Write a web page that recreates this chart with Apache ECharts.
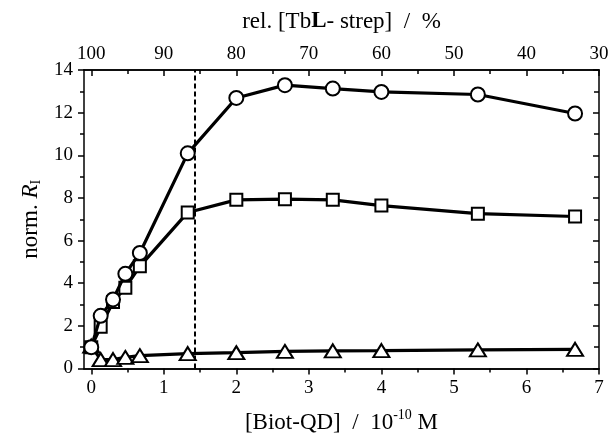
<!DOCTYPE html>
<html>
<head>
<meta charset="utf-8">
<script src="https://cdn.jsdelivr.net/npm/echarts@6/dist/echarts.min.js"></script>
<style>
  html, body { margin: 0; padding: 0; background: #fff; }
  #chart { width: 613px; height: 439px; }
</style>
</head>
<body>
<div id="chart"></div>
<script>
var myChart = echarts.init(document.getElementById('chart'));

// [Biot-QD] / 10^-10 M
var conc = [0, 0.13, 0.3, 0.47, 0.67, 1.33, 2, 2.67, 3.33, 4, 5.33, 6.67];
var circles = [1.0, 2.47, 3.24, 4.44, 5.42, 10.09, 12.69, 13.29, 13.13, 12.97, 12.85, 11.96];
var squares = [1.0, 1.96, 3.12, 3.79, 4.79, 7.32, 7.91, 7.94, 7.91, 7.64, 7.26, 7.13];
var triangles = [1.05, 0.42, 0.42, 0.52, 0.6, 0.7, 0.74, 0.8, 0.83, 0.84, 0.87, 0.9];
var dashX = 1.42;

var bottomTicks = [0, 1, 2, 3, 4, 5, 6, 7];
var bottomMinor = [0.5, 1.5, 2.5, 3.5, 4.5, 5.5, 6.5];
var topLabels = ['100', '90', '80', '70', '60', '50', '40', '30'];

var font = 'Liberation Serif';

function pairs(ys) {
    return conc.map(function (x, i) { return [x, ys[i]]; });
}

function xAxisBase(extra) {
    var a = {
        type: 'value',
        min: -0.1,
        max: 7,
        splitLine: { show: false },
        axisLine: { show: true, onZero: false, lineStyle: { color: '#000', width: 1.5 } }
    };
    for (var k in extra) a[k] = extra[k];
    return a;
}

function lineSeries(name, data, symbol, size, z) {
    return {
        name: name,
        type: 'line',
        data: pairs(data),
        symbol: symbol,
        symbolSize: size,
        z: z,
        lineStyle: { color: '#000', width: 3.2 },
        itemStyle: { color: '#fff', borderColor: '#000', borderWidth: 2 },
        emphasis: { disabled: true }
    };
}

var circleSeries = lineSeries('circle', circles, 'circle', 14, 4);
circleSeries.markLine = {
    symbol: 'none',
    silent: true,
    label: { show: false },
    lineStyle: { color: '#000', width: 2, type: [5, 3] },
    data: [[{ coord: [dashX, 0] }, { coord: [dashX, 14] }]]
};

var option = {
    animation: false,
    grid: { left: 84, right: 14, top: 70, bottom: 70 },
    xAxis: [
        xAxisBase({
            position: 'bottom',
            name: '{t|[Biot-QD]  /  10}{sup|-10}{t| M}',
            nameLocation: 'middle',
            nameGap: 40,
            nameTextStyle: {
                color: '#000',
                fontFamily: font,
                fontSize: 23,
                rich: {
                    t: { fontFamily: font, fontSize: 23, color: '#000' },
                    sup: { fontFamily: font, fontSize: 14, color: '#000', padding: [0, 0, 14, 0] }
                }
            },
            axisTick: { show: true, inside: false, length: 6, customValues: bottomTicks, lineStyle: { color: '#000', width: 1.5 } },
            axisLabel: {
                customValues: bottomTicks,
                margin: 10,
                color: '#000',
                fontFamily: font,
                fontSize: 19
            }
        }),
        xAxisBase({
            position: 'bottom',
            axisTick: { show: true, inside: false, length: 4, customValues: bottomMinor, lineStyle: { color: '#000', width: 1.5 } },
            axisLabel: { show: false }
        }),
        xAxisBase({
            position: 'top',
            name: '{t|rel. [Tb}{b|L}{t|- strep]  /  %}',
            nameLocation: 'middle',
            nameGap: 37,
            nameTextStyle: {
                color: '#000',
                fontFamily: font,
                fontSize: 23,
                rich: {
                    t: { fontFamily: font, fontSize: 23, color: '#000' },
                    b: { fontFamily: font, fontSize: 23, color: '#000', fontWeight: 'bold' }
                }
            },
            axisTick: { show: true, inside: true, length: 6, customValues: bottomTicks, lineStyle: { color: '#000', width: 1.5 } },
            axisLabel: {
                customValues: bottomTicks,
                margin: 6,
                color: '#000',
                fontFamily: font,
                fontSize: 19,
                formatter: function (v) { return topLabels[Math.round(v)]; }
            }
        }),
        xAxisBase({
            position: 'top',
            axisTick: { show: true, inside: true, length: 4, customValues: bottomMinor, lineStyle: { color: '#000', width: 1.5 } },
            axisLabel: { show: false }
        })
    ],
    yAxis: [
        {
            type: 'value',
            position: 'left',
            min: 0,
            max: 14,
            interval: 2,
            name: '{t|norm. }{i|R}{sub|I}',
            nameLocation: 'middle',
            nameRotate: 90,
            nameGap: 40,
            nameTextStyle: {
                color: '#000',
                fontFamily: font,
                fontSize: 23,
                rich: {
                    t: { fontFamily: font, fontSize: 23, color: '#000' },
                    i: { fontFamily: font, fontSize: 23, color: '#000', fontStyle: 'italic' },
                    sub: { fontFamily: font, fontSize: 14, color: '#000', padding: [10, 0, 0, 0] }
                }
            },
            splitLine: { show: false },
            axisLine: { show: true, onZero: false, lineStyle: { color: '#000', width: 1.5 } },
            axisTick: { show: true, inside: false, length: 6, lineStyle: { color: '#000', width: 1.5 } },
            minorTick: { show: true, splitNumber: 2, length: 4, lineStyle: { color: '#000', width: 1.5 } },
            axisLabel: { margin: 11, color: '#000', fontFamily: font, fontSize: 19 }
        },
        {
            type: 'value',
            position: 'right',
            min: 0,
            max: 14,
            interval: 2,
            splitLine: { show: false },
            axisLine: { show: true, onZero: false, lineStyle: { color: '#000', width: 1.5 } },
            axisTick: { show: true, inside: true, length: 6, lineStyle: { color: '#000', width: 1.5 } },
            minorTick: { show: true, splitNumber: 2, length: 5, lineStyle: { color: '#000', width: 1.5 } },
            axisLabel: { show: false }
        }
    ],
    series: [
        lineSeries('triangle', triangles, 'triangle', [16, 13], 2),
        lineSeries('square', squares, 'rect', 12, 3),
        circleSeries
    ]
};

myChart.setOption(option);
</script>
</body>
</html>
